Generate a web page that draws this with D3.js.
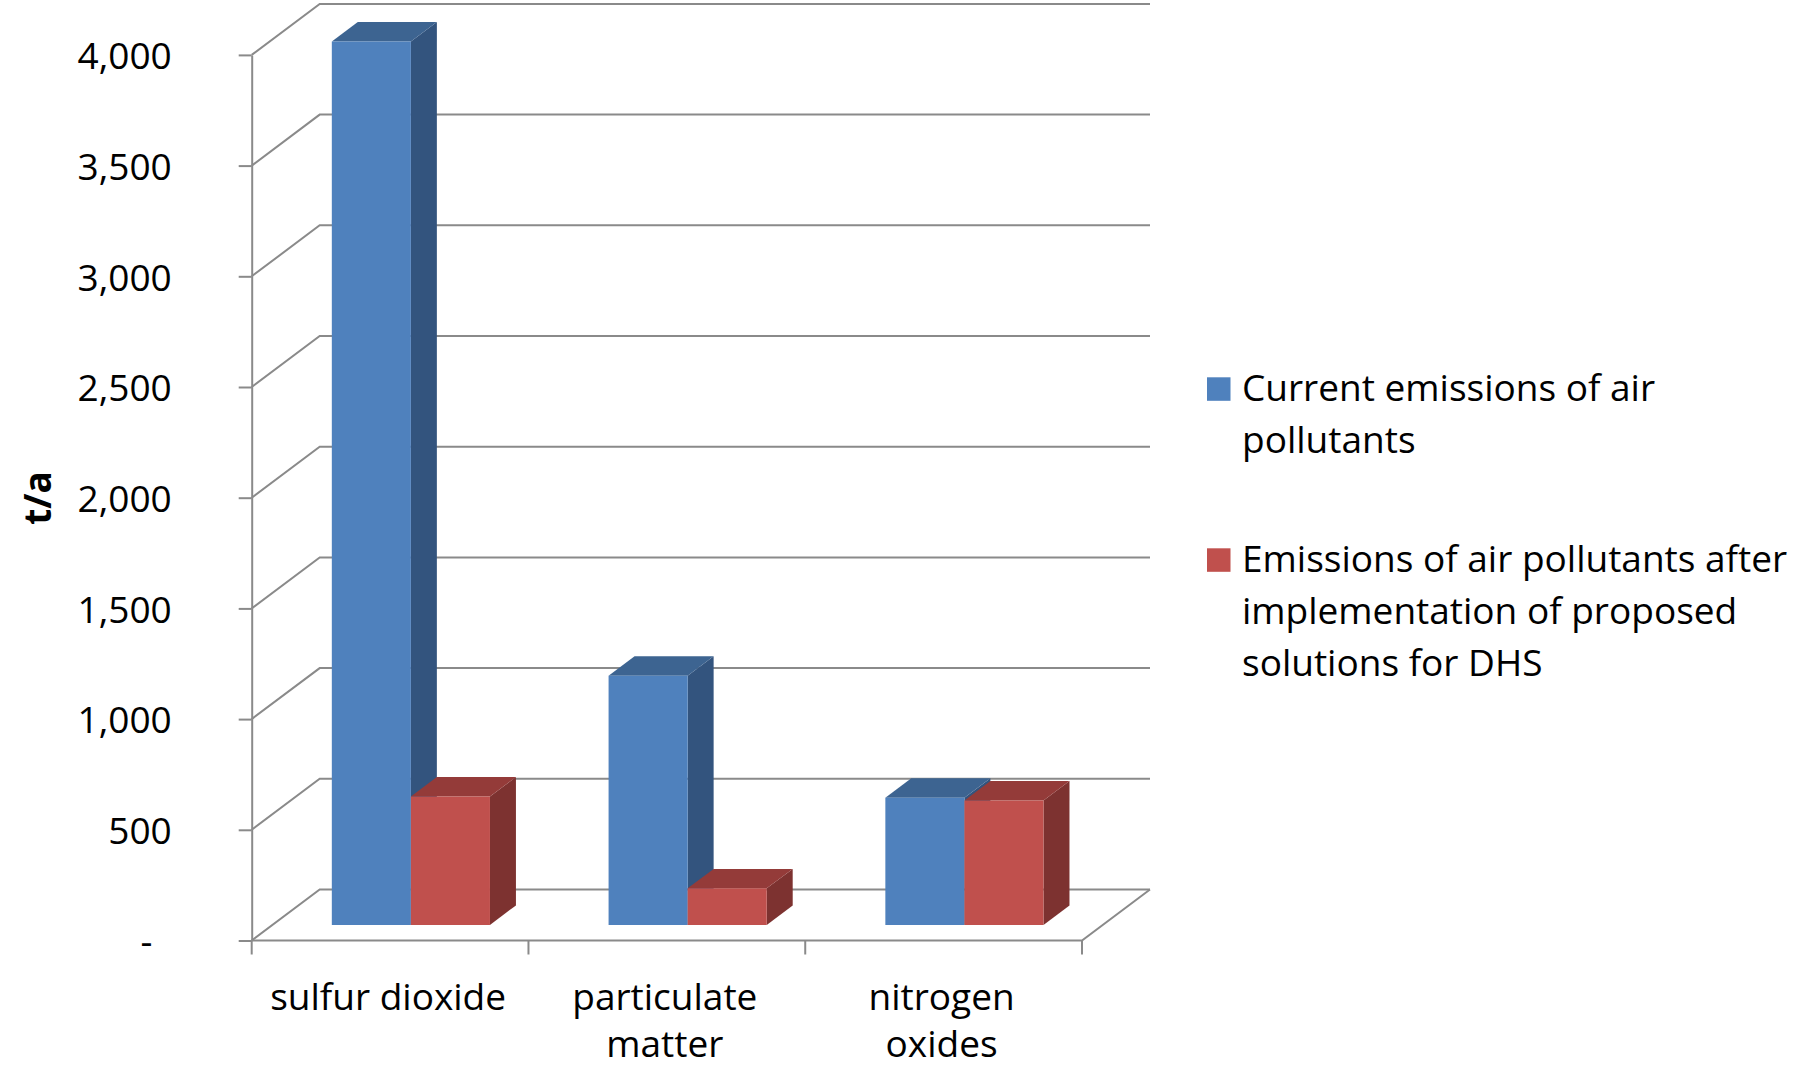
<!DOCTYPE html>
<html>
<head>
<meta charset="utf-8">
<script src="https://cdn.jsdelivr.net/npm/d3@7"></script>
<style>
  html, body { margin: 0; padding: 0; background: #ffffff; }
  svg { display: block; font-family: "Open Sans", "Noto Sans", sans-serif; }
</style>
</head>
<body>
<svg id="chart" width="1794" height="1067"></svg>
<script>
// Emissions of air pollutants, t/a
const categories = ["sulfur dioxide", "particulate matter", "nitrogen oxides"];
const seriesNames = [
  "Current emissions of air pollutants",
  "Emissions of air pollutants after implementation of proposed solutions for DHS"
];
const currentEmissions = [3990, 1125, 574];
const afterEmissions = [580, 165, 562];
const yTicks = [0, 500, 1000, 1500, 2000, 2500, 3000, 3500, 4000];
const yTickLabels = ["-\u00a0\u00a0", "500", "1,000", "1,500", "2,000", "2,500", "3,000", "3,500", "4,000"];
const yTitle = "t/a";

const seriesValues = [currentEmissions, afterEmissions];
const seriesFront = ["#4F81BD", "#C0504D"];
const seriesTop   = ["#3D6491", "#943B39"];
const seriesSide  = ["#33547E", "#7D3230"];

const svg = d3.select("#chart");

// plot box: front plane, and the oblique depth offset of the 3D box
const frontLeft = 251.7, frontRight = 1082;
const baseY = 940.5, topY = 54.9;
const depthDX = 68, depthDY = 51;
const barDepth0 = 0.306, barDepth1 = 0.688;

const y = d3.scaleLinear().domain([0, 4000]).range([baseY, topY]);
const x0 = d3.scaleBand().domain(categories).range([frontLeft, frontRight]);
const x1 = d3.scaleBand().domain(seriesNames).range([0, x0.bandwidth()])
  .paddingInner(0).paddingOuter(0.75);

// project (x on front plane, value, depth fraction) to screen
const proj = (x, v, d) => [x + d * depthDX, y(v) - d * depthDY];

const gridColor = "#8a8a8a";
const grid = svg.append("g").attr("fill", "none").attr("stroke", gridColor).attr("stroke-width", 2);

// side wall and back wall gridlines
yTicks.forEach(v => {
  const a = proj(frontLeft, v, 0), b = proj(frontLeft, v, 1), c = proj(frontRight, v, 1);
  grid.append("path").attr("d", d3.line()([a, b, c]));
});

// floor: front edge and right edge
grid.append("path").attr("d", d3.line()([proj(frontLeft, 0, 0), proj(frontRight, 0, 0), proj(frontRight, 0, 1)]));

// category boundary ticks
const catBounds = categories.map(c => x0(c)).concat([frontRight]);
catBounds.forEach(bx => {
  grid.append("line").attr("x1", bx).attr("x2", bx).attr("y1", baseY).attr("y2", baseY + 14);
});

// value axis on the front edge of the side wall
const yAxis = d3.axisLeft(y)
  .tickValues(yTicks)
  .tickFormat((d, i) => yTickLabels[i])
  .tickSize(13)
  .tickSizeOuter(0)
  .tickPadding(67);
const ya = svg.append("g").attr("transform", `translate(${frontLeft},0)`).call(yAxis);
ya.selectAll("path, line").attr("stroke", gridColor).attr("stroke-width", 2);
ya.selectAll("text")
  .attr("fill", "#000")
  .attr("font-size", 37)
  .attr("font-family", "Open Sans, Noto Sans, sans-serif")
  .attr("dy", "0.37em");

// axis title
svg.append("text")
  .attr("transform", "translate(51,498) rotate(-90)")
  .attr("text-anchor", "middle")
  .attr("font-size", 37)
  .attr("font-weight", "bold")
  .attr("fill", "#000")
  .text(yTitle);

// 3D columns, drawn left to right so nearer faces cover farther ones
const bars = svg.append("g");
categories.forEach((cat, ci) => {
  seriesNames.forEach((s, si) => {
    const v = seriesValues[si][ci];
    const xl = x0(cat) + x1(s), xr = xl + x1.bandwidth();
    const fBL = proj(xl, 0, barDepth0), fBR = proj(xr, 0, barDepth0);
    const fTL = proj(xl, v, barDepth0), fTR = proj(xr, v, barDepth0);
    const bTL = proj(xl, v, barDepth1), bTR = proj(xr, v, barDepth1);
    const bBR = proj(xr, 0, barDepth1);
    const poly = pts => d3.line()(pts) + "Z";
    bars.append("path").attr("d", poly([fBR, fTR, bTR, bBR])).attr("fill", seriesSide[si]);
    bars.append("path").attr("d", poly([fTL, fTR, bTR, bTL])).attr("fill", seriesTop[si]);
    bars.append("path").attr("d", poly([fBL, fTL, fTR, fBR])).attr("fill", seriesFront[si]);
  });
});

// word wrap helper
function wrapLines(text, maxWidth, fontSize, weight) {
  const probe = svg.append("text").attr("font-size", fontSize).attr("font-weight", weight || "normal");
  const words = text.split(" ");
  const lines = [];
  let cur = "";
  words.forEach(w => {
    const trial = cur ? cur + " " + w : w;
    probe.text(trial);
    if (cur && probe.node().getComputedTextLength() > maxWidth) {
      lines.push(cur);
      cur = w;
    } else {
      cur = trial;
    }
  });
  if (cur) lines.push(cur);
  probe.remove();
  return lines;
}

// category labels
const catLabels = svg.append("g").attr("font-size", 37).attr("fill", "#000").attr("text-anchor", "middle");
categories.forEach(cat => {
  const lines = wrapLines(cat, 245, 37);
  const cx = x0(cat) + x0.bandwidth() / 2 - 2;
  const t = catLabels.append("text").attr("x", cx).attr("y", 1010);
  lines.forEach((ln, i) => {
    t.append("tspan").attr("x", cx).attr("dy", i === 0 ? 0 : 47).text(ln);
  });
});

// legend
const legend = svg.append("g").attr("font-size", 37).attr("fill", "#000");
let ly = 377.3;
seriesNames.forEach((s, si) => {
  legend.append("rect").attr("x", 1207).attr("y", ly).attr("width", 23.5).attr("height", 23.5)
    .attr("fill", seriesFront[si]);
  const lines = wrapLines(s, 560, 37);
  const t = legend.append("text").attr("x", 1242).attr("y", ly + 24);
  lines.forEach((ln, i) => {
    t.append("tspan").attr("x", 1242).attr("dy", i === 0 ? 0 : 52).text(ln);
  });
  ly += lines.length * 52 + 67;
});
</script>
</body>
</html>
